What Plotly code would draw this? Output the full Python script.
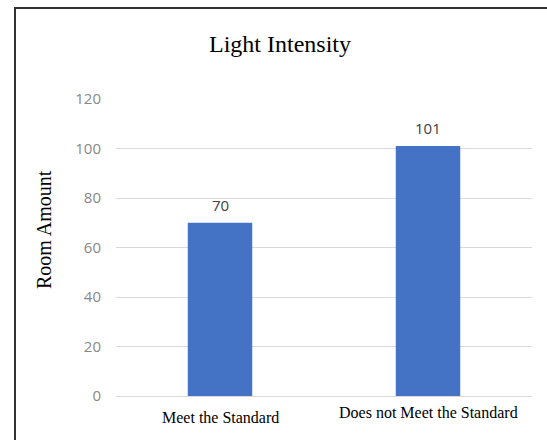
import plotly.graph_objects as go

categories = ["Meet the Standard", "Does not Meet the Standard"]
room_amount = [70, 101]
y_ticks = [0, 20, 40, 60, 80, 100, 120]

W, H = 547, 440
L, R, T, B = 116, 15, 99, 44
pw, ph = W - L - R, H - T - B

def px(x):
    return (x - L) / pw

def py(y):
    return (H - B - y) / ph

fig = go.Figure()
fig.add_trace(go.Bar(
    x=categories, y=room_amount,
    marker=dict(color="#4472C4", line=dict(width=0)),
    width=0.31, hoverinfo="skip",
))

for c, v in zip(categories, room_amount):
    fig.add_annotation(text=str(v), x=c, y=v, xref="x", yref="y", showarrow=False,
                       xanchor="center", yanchor="middle", yshift=18,
                       font=dict(family="Open Sans, Arial, sans-serif", size=15, color="#404040"))

fig.update_layout(
    width=W, height=H,
    margin=dict(l=L, r=R, t=T, b=B),
    paper_bgcolor="white", plot_bgcolor="white",
    showlegend=False,
    xaxis=dict(showticklabels=False, showgrid=False, zeroline=False, showline=False, ticks=""),
    yaxis=dict(range=[0, 120], tickvals=y_ticks, showgrid=True, gridcolor="#d9d9d9", gridwidth=1,
               zeroline=True, zerolinecolor="#d9d9d9", zerolinewidth=1, showline=False, ticks="",
               tickfont=dict(family="Open Sans, Arial, sans-serif", size=15, color="#888888"),
               ticklabelstandoff=14),
)

fig.add_annotation(text="Light Intensity", xref="paper", yref="paper", x=px(280), y=py(44),
                   showarrow=False, xanchor="center", yanchor="middle",
                   font=dict(family="Liberation Serif, Times New Roman, serif", size=24, color="black"))
fig.add_annotation(text="Room Amount", xref="paper", yref="paper", x=px(44), y=py(230),
                   showarrow=False, textangle=-90, xanchor="center", yanchor="middle",
                   font=dict(family="Liberation Serif, Times New Roman, serif", size=20, color="black"))
fig.add_annotation(text=categories[0], xref="x", yref="paper", x=categories[0], y=py(418),
                   showarrow=False, xanchor="center", yanchor="middle",
                   font=dict(family="Liberation Serif, Times New Roman, serif", size=16, color="black"))
fig.add_annotation(text=categories[1], xref="x", yref="paper", x=categories[1], y=py(412),
                   showarrow=False, xanchor="center", yanchor="middle",
                   font=dict(family="Liberation Serif, Times New Roman, serif", size=16, color="black"))

fig.add_shape(type="rect", xref="paper", yref="paper",
              x0=px(15), x1=px(560), y0=py(8), y1=py(460),
              line=dict(color="#333333", width=2), fillcolor="rgba(0,0,0,0)", layer="above")

fig.write_html("out.html", config={"displayModeBar": False},
               post_script="document.body.style.margin='0';")
